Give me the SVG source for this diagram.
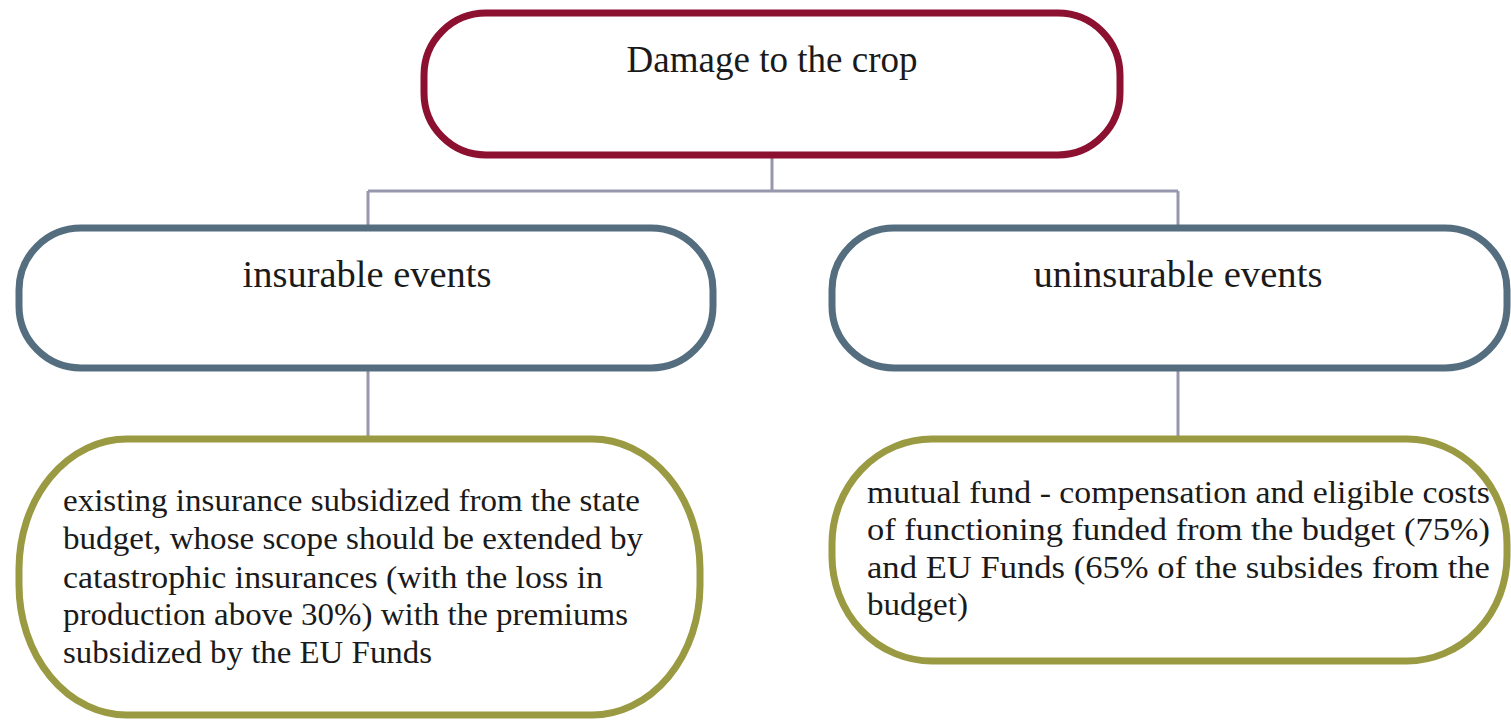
<svg xmlns="http://www.w3.org/2000/svg" width="1511" height="721" viewBox="0 0 1511 721">
<style>
.t{font-family:"Liberation Serif","Times New Roman",serif;fill:#1a1a1a}
.h{font-size:38px;text-anchor:middle}
.b{font-size:31px}
.n{fill:#ffffff;stroke-width:7}
.red{stroke:#8c1130}
.blue{stroke:#546e7f}
.olive{stroke:#9a9a42}
.c{fill:none;stroke:#9797ad;stroke-width:3}
</style>
<rect width="1511" height="721" fill="#ffffff"/>
<g id="connectors">
<path class="c" d="M772 157V191M368 191H1178M368 191V227M1178 191V227"/>
<path class="c" d="M368 368V438M1178 368V438"/>
</g>
<g id="node-damage">
<rect class="n red" x="424" y="13" width="696" height="142" rx="62" ry="62"/>
<text class="t h" x="772" y="72" textLength="291" lengthAdjust="spacingAndGlyphs">Damage to the crop</text>
</g>
<g id="node-insurable">
<rect class="n blue" x="19" y="228" width="694" height="140" rx="62" ry="62"/>
<text class="t h" x="367" y="287" textLength="249" lengthAdjust="spacingAndGlyphs">insurable events</text>
</g>
<g id="node-uninsurable">
<rect class="n blue" x="832" y="228" width="675" height="140" rx="62" ry="62"/>
<text class="t h" x="1178" y="287" textLength="289" lengthAdjust="spacingAndGlyphs">uninsurable events</text>
</g>
<g id="node-insurance">
<rect class="n olive" x="19" y="439" width="681" height="276" rx="108" ry="130"/>
<text class="t b" x="63" y="511" textLength="577" lengthAdjust="spacingAndGlyphs">existing insurance subsidized from the state</text>
<text class="t b" x="63" y="549" textLength="580" lengthAdjust="spacingAndGlyphs">budget, whose scope should be extended by</text>
<text class="t b" x="63" y="588" textLength="540" lengthAdjust="spacingAndGlyphs">catastrophic insurances (with the loss in</text>
<text class="t b" x="63" y="625" textLength="565" lengthAdjust="spacingAndGlyphs">production above 30%) with the premiums</text>
<text class="t b" x="63" y="663" textLength="369" lengthAdjust="spacingAndGlyphs">subsidized by the EU Funds</text>
</g>
<g id="node-mutual">
<rect class="n olive" x="832" y="439" width="675" height="222" rx="100" ry="105"/>
<text class="t b" x="867" y="503" textLength="623" lengthAdjust="spacingAndGlyphs">mutual fund - compensation and eligible costs</text>
<text class="t b" x="867" y="540" textLength="623" lengthAdjust="spacingAndGlyphs">of functioning funded from the budget (75%)</text>
<text class="t b" x="867" y="578" textLength="623" lengthAdjust="spacingAndGlyphs">and EU Funds (65% of the subsides from the</text>
<text class="t b" x="867" y="615" textLength="101" lengthAdjust="spacingAndGlyphs">budget)</text>
</g>
</svg>
